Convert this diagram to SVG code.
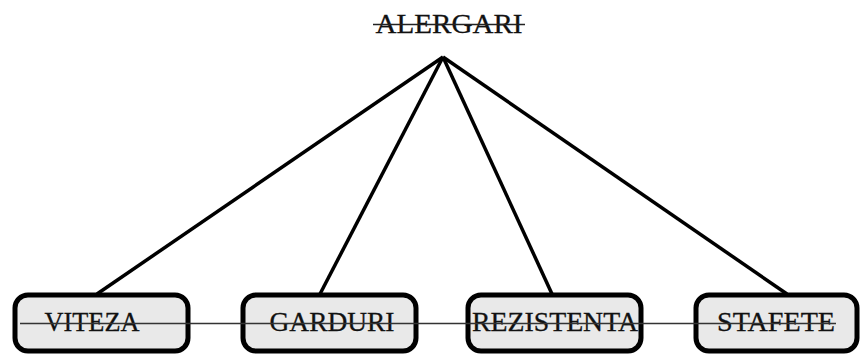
<svg xmlns="http://www.w3.org/2000/svg" width="860" height="355" viewBox="0 0 860 355">
<style>
.box{fill:#e9e9e9;stroke:#000;stroke-width:5}
.lbl{font-family:"Liberation Serif","Times New Roman",serif;font-size:27px;fill:#111;stroke:#111;stroke-width:0.3;text-anchor:middle}
.conn{stroke:#000;stroke-width:3.5;fill:none}
</style>
<rect width="860" height="355" fill="#fff"/>
<g id="connectors">
<line class="conn" x1="443" y1="57" x2="97" y2="294"/>
<line class="conn" x1="443" y1="57" x2="320" y2="294"/>
<line class="conn" x1="443" y1="57" x2="552" y2="294"/>
<line class="conn" x1="443" y1="57" x2="787" y2="294"/>
</g>
<g id="title">
<text class="lbl" x="449" y="33" textLength="147" lengthAdjust="spacingAndGlyphs">ALERGARI</text>
<line x1="373" y1="24.5" x2="525" y2="24.5" stroke="#222" stroke-width="1.5"/>
</g>
<g id="viteza">
<rect class="box" x="15" y="295" width="173" height="56" rx="13"/>
<text class="lbl" x="92" y="331" textLength="95" lengthAdjust="spacingAndGlyphs">VITEZA</text>
</g>
<g id="garduri">
<rect class="box" x="243" y="295" width="173" height="56" rx="13"/>
<text class="lbl" x="332" y="331" textLength="125" lengthAdjust="spacingAndGlyphs">GARDURI</text>
</g>
<g id="rezistenta">
<rect class="box" x="468" y="295" width="173" height="56" rx="13"/>
<text class="lbl" x="555" y="331" textLength="166" lengthAdjust="spacingAndGlyphs">REZISTENTA</text>
</g>
<g id="stafete">
<rect class="box" x="696" y="295" width="161" height="56" rx="13"/>
<text class="lbl" x="776" y="331" textLength="118" lengthAdjust="spacingAndGlyphs">STAFETE</text>
</g>
<line x1="20" y1="323.5" x2="836" y2="323.5" stroke="#333" stroke-width="1.5"/>
</svg>
